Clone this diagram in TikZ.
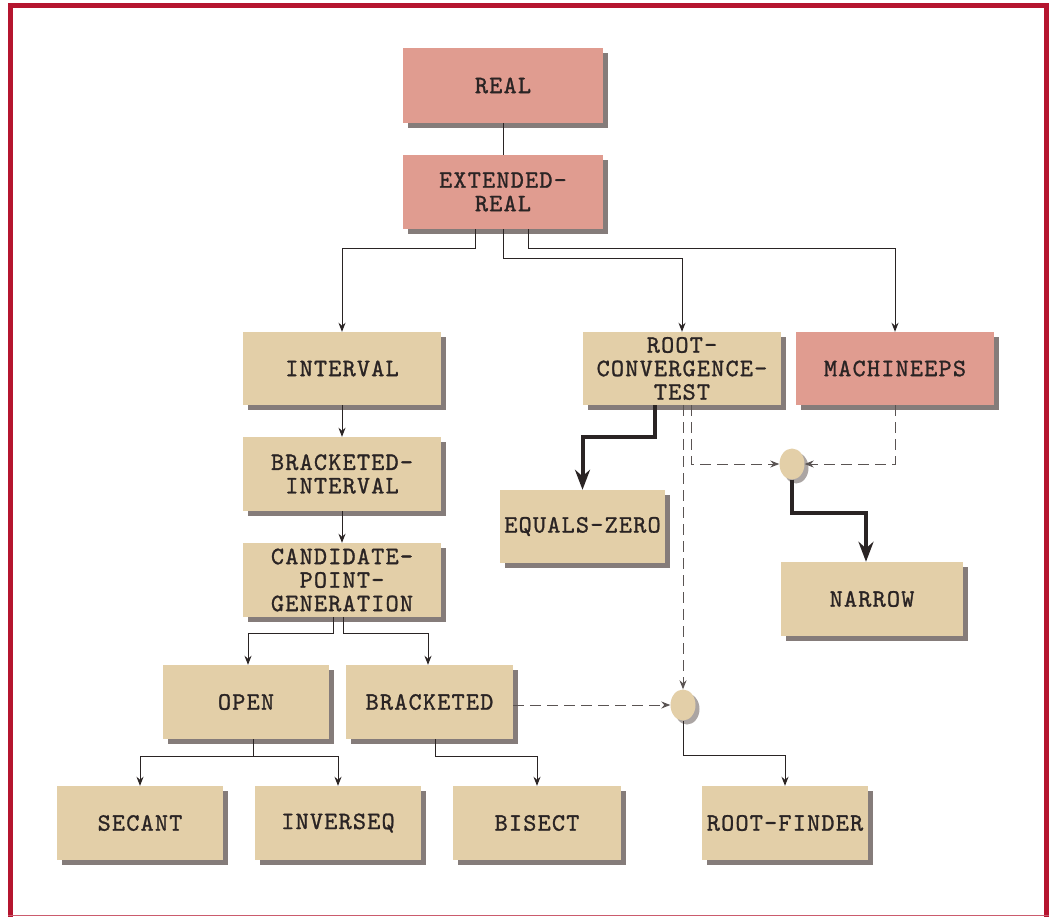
\documentclass[tikz,border=0pt]{standalone}
\usepackage{fontspec}
\usetikzlibrary{arrows.meta,shadows,shapes.geometric,calc}
\definecolor{pinkc}{HTML}{E09C90}
\definecolor{tanc}{HTML}{E3CFA8}
\definecolor{shadowc}{HTML}{857C7A}
\definecolor{eshadowc}{HTML}{ABA5A3}
\definecolor{framec}{HTML}{B5152F}
\definecolor{textc}{HTML}{2A2424}
\definecolor{linec}{HTML}{2A2424}
\definecolor{dashc}{HTML}{5A5453}
\newfontfamily\lmboxfont{lmmono10-regular.otf}[FakeBold=1.1,LetterSpace=4.8]
\newcommand\boxfont{\lmboxfont\fontsize{25}{23.5}\selectfont}
\tikzset{
  box/.style={rectangle, draw=none, inner sep=0pt, align=center, text=textc,
    font=\boxfont,
    drop shadow={shadow xshift=5pt, shadow yshift=-5pt, fill=shadowc, opacity=1}},
  tanbox/.style={box, fill=tanc},
  pinkbox/.style={box, fill=pinkc},
  ell/.style={ellipse, draw=none, fill=tanc, inner sep=0pt, minimum width=25pt, minimum height=31pt,
    drop shadow={shadow xshift=4pt, shadow yshift=-4pt, fill=eshadowc, opacity=1}},
  conn/.style={draw=linec, line width=1pt},
  arr/.style={conn, -{Stealth[length=9pt,width=7pt]}},
  darr/.style={draw=dashc, line width=1pt, dash pattern=on 11pt off 6pt, -{Stealth[length=9pt,width=7pt]}},
  tarr/.style={draw=linec, line width=4pt, -{Stealth[length=20pt,width=15pt]}},
}
\begin{document}
\begin{tikzpicture}[x=1pt,y=-1pt]
\useasboundingbox (0,0) rectangle (1049,917);
% frame
\fill[framec] (8,3) rectangle (13,917);
\fill[framec] (8,3) rectangle (1049,8);
\fill[framec] (1044,3) rectangle (1049,917);
\fill[framec!70] (8,914.5) rectangle (1049,916);

% nodes
\node[pinkbox, minimum width=200pt, minimum height=75pt] (real) at (503,85.5) {REAL};
\node[pinkbox, minimum width=200pt, minimum height=74pt] (ext) at (503,192) {EXTENDED-\\REAL};
\node[tanbox, minimum width=198pt, minimum height=73pt] (int) at (342,368.5) {INTERVAL};
\node[tanbox, minimum width=198pt, minimum height=73pt] (rct) at (682,368.5) {ROOT-\\CONVERGENCE-\\TEST};
\node[pinkbox, minimum width=198pt, minimum height=73pt] (mach) at (895,368.5) {MACHINEEPS};
\node[tanbox, minimum width=198pt, minimum height=74pt] (bi) at (342,474) {BRACKETED-\\INTERVAL};
\node[tanbox, minimum width=165pt, minimum height=73pt] (eq) at (582.5,526.5) {EQUALS-ZERO};
\node[tanbox, minimum width=198pt, minimum height=74pt] (cpg) at (342,580) {CANDIDATE-\\POINT-\\GENERATION};
\node[tanbox, minimum width=182pt, minimum height=74pt] (nar) at (872,599) {NARROW};
\node[tanbox, minimum width=166pt, minimum height=74pt] (open) at (246,702) {OPEN};
\node[tanbox, minimum width=167pt, minimum height=74pt] (brk) at (429.5,702) {BRACKETED};
\node[tanbox, minimum width=166pt, minimum height=74pt] (sec) at (140,823) {SECANT};
\node[tanbox, minimum width=166pt, minimum height=74pt] (inv) at (338,823) {INVERSEQ};
\node[tanbox, minimum width=168pt, minimum height=74pt] (bis) at (537,823) {BISECT};
\node[tanbox, minimum width=166pt, minimum height=74pt] (rf) at (785,823) {ROOT-FINDER};
\node[ell] (e1) at (792,464) {};
\node[ell] (e2) at (683,705) {};

% connectors
\draw[conn] (real.south) -- (ext.north);
\draw[arr] ($(ext.south)+(-28,0)$) -- ++(0,19) -| (int.north);
\draw[arr] (ext.south) -- ++(0,29) -| (rct.north);
\draw[arr] ($(ext.south)+(25,0)$) -- ++(0,19) -| (mach.north);
\draw[arr] (int.south) -- (bi.north);
\draw[arr] (bi.south) -- (cpg.north);
\draw[arr] ($(cpg.south)+(-9,0)$) -- ++(0,16) -| ($(open.north)+(2,0)$);
\draw[arr] ($(cpg.south)+(1,0)$) -- ++(0,16) -| ($(brk.north)+(-1.5,0)$);
\draw[arr] ($(open.south)+(7,0)$) -- ++(0,17) -| (sec.north);
\draw[arr] ($(open.south)+(7,0)$) -- ++(0,17) -| (inv.north);
\draw[arr] ($(brk.south)+(6,0)$) -- ++(0,17) -| (bis.north);
\draw[arr] (e2.south) -- ++(0,35) -| (rf.north);
\draw[darr] (brk.east |- e2.west) -- (e2.west);
\draw[darr] (rct.south -| e2.north) -- (e2.north);
\draw[darr] ($(rct.south)+(9,0)$) |- (e1.west);
\draw[darr] (mach.south) |- (e1.east);
\draw[tarr] ($(rct.south)+(-27,0)$) -- ++(0,32) -| (eq.north);
\draw[tarr] (e1.south) -- ++(0,33) -| ($(nar.north)+(-6,0)$);
\end{tikzpicture}
\end{document}
